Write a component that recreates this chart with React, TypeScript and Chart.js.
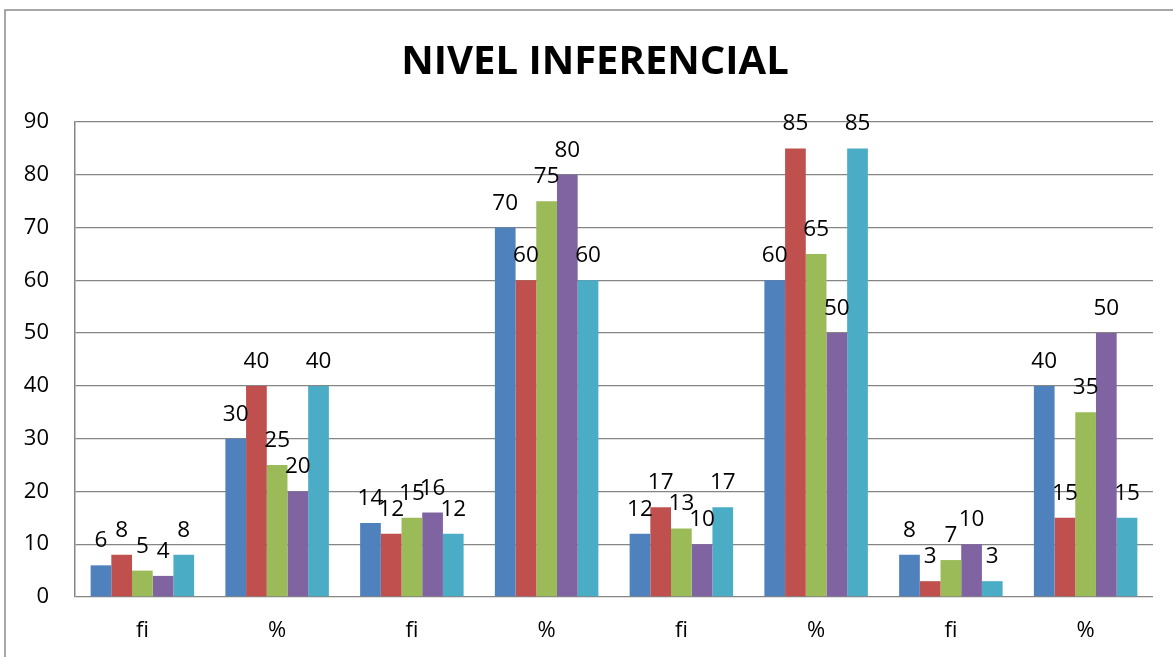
import React, { useEffect, useRef } from "react";
import { Chart, registerables } from "chart.js";

Chart.register(...registerables);

const TITLE = "NIVEL INFERENCIAL";
const categories = ["fi", "%", "fi", "%", "fi", "%", "fi", "%"];
const seriesNames = ["Serie 1", "Serie 2", "Serie 3", "Serie 4", "Serie 5"];
const serie1 = [6, 30, 14, 70, 12, 60, 8, 40];
const serie2 = [8, 40, 12, 60, 17, 85, 3, 15];
const serie3 = [5, 25, 15, 75, 13, 65, 7, 35];
const serie4 = [4, 20, 16, 80, 10, 50, 10, 50];
const serie5 = [8, 40, 12, 60, 17, 85, 3, 15];
const colors = ["#4F81BD", "#C0504D", "#9BBB59", "#8064A2", "#4BACC6"];
const yMin = 0;
const yMax = 90;
const yStep = 10;

const FONT = "'Open Sans', 'Liberation Sans', sans-serif";

const framePlugin = {
  id: "frame",
  beforeDraw(chart: any) {
    const ctx = chart.ctx;
    ctx.save();
    ctx.fillStyle = "#ffffff";
    ctx.fillRect(0, 0, chart.width, chart.height);
    ctx.strokeStyle = "#8a8a8a";
    ctx.lineWidth = 1.5;
    ctx.beginPath();
    ctx.moveTo(5, chart.height + 5);
    ctx.lineTo(5, 10);
    ctx.lineTo(chart.width + 5, 10);
    ctx.stroke();
    ctx.restore();
  },
  afterDraw(chart: any) {
    const ctx = chart.ctx;
    ctx.save();
    ctx.fillStyle = "#000000";
    ctx.font = `bold 40px ${FONT}`;
    ctx.textAlign = "center";
    ctx.textBaseline = "alphabetic";
    ctx.fillText(TITLE, 595, 74);
    ctx.restore();
  },
};

const labelPlugin = {
  id: "barLabels",
  afterDatasetsDraw(chart: any) {
    const ctx = chart.ctx;
    ctx.save();
    ctx.fillStyle = "#000000";
    ctx.font = `22.5px ${FONT}`;
    ctx.textAlign = "center";
    ctx.textBaseline = "alphabetic";
    chart.data.datasets.forEach((ds: any, i: number) => {
      const meta = chart.getDatasetMeta(i);
      meta.data.forEach((el: any, j: number) => {
        ctx.fillText(String(ds.data[j]), el.x, el.y - 18);
      });
    });
    ctx.restore();
  },
};

export default function App() {
  const ref = useRef<HTMLCanvasElement | null>(null);
  useEffect(() => {
    if (!ref.current) return;
    const all = [serie1, serie2, serie3, serie4, serie5];
    const chart = new Chart(ref.current, {
      type: "bar",
      data: {
        labels: categories,
        datasets: all.map((d, i) => ({
          label: seriesNames[i],
          data: d,
          backgroundColor: colors[i],
          borderWidth: 0,
          categoryPercentage: 0.768,
          barPercentage: 1,
        })),
      },
      options: {
        responsive: false,
        animation: false,
        layout: { padding: { top: 122, right: 20, left: 0, bottom: 0 } },
        plugins: {
          legend: { display: false },
          title: { display: false },
          tooltip: { enabled: false },
        },
        scales: {
          x: {
            grid: { display: false, drawTicks: false },
            border: { display: false },
            ticks: { color: "#000", font: { family: FONT, size: 22 }, padding: 21 },
            afterFit: (axis: any) => {
              axis.height = 60;
            },
          },
          y: {
            min: yMin,
            max: yMax,
            ticks: {
              stepSize: yStep,
              color: "#000",
              font: { family: FONT, size: 22 },
              padding: 26,
            },
            grid: { color: "#858585", lineWidth: 1.3, drawTicks: false },
            border: { display: true, color: "#858585", width: 1.5 },
            afterFit: (axis: any) => {
              axis.width = 75;
            },
          },
        },
      },
      plugins: [framePlugin, labelPlugin],
    });
    return () => chart.destroy();
  }, []);
  return (
    <div style={{ position: "fixed", left: 0, top: 0, width: 1173, height: 657 }}>
      <canvas ref={ref} width={1173} height={657} style={{ display: "block" }} />
    </div>
  );
}
